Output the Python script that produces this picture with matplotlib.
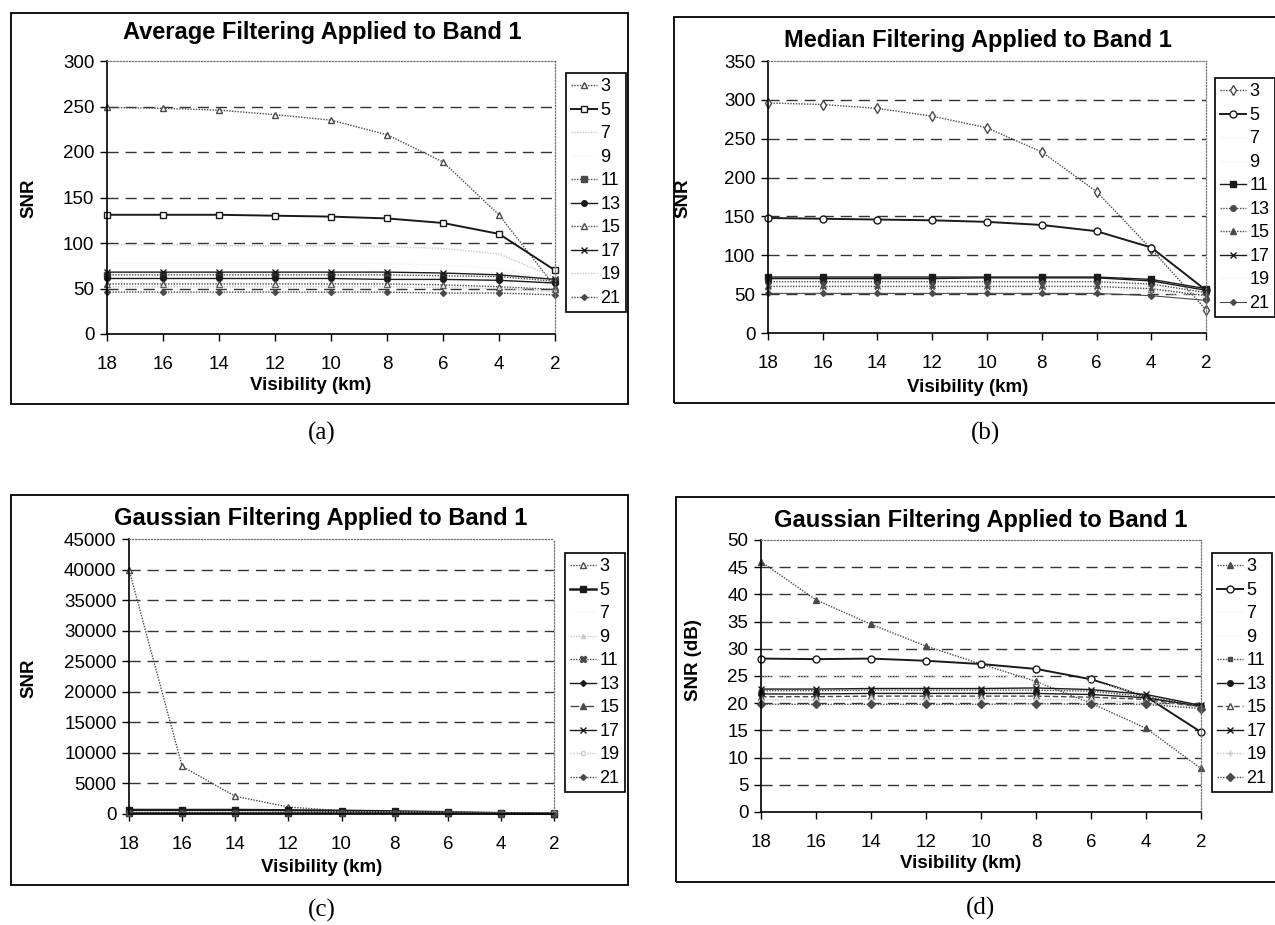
import matplotlib
matplotlib.use("Agg")
import matplotlib.pyplot as plt
from matplotlib.patches import Rectangle

plt.rcParams["font.family"] = ["Liberation Sans", "DejaVu Sans"]

W, H = 1275, 925

# ---- data -------------------------------------------------------------
visibility_km = [18, 16, 14, 12, 10, 8, 6, 4, 2]
window_sizes = ["3", "5", "7", "9", "11", "13", "15", "17", "19", "21"]

# (a) average filter, SNR per window size
average_snr = [
    [249, 248, 246, 241, 235, 219, 189, 131, 52],
    [131, 131, 131, 130, 129, 127, 122, 110, 70],
    [98, 98, 97, 97, 97, 96, 94, 88, 62],
    [78, 78, 78, 78, 78, 77, 76, 72, 58],
    [65, 65, 65, 65, 65, 65, 64, 63, 58],
    [61, 61, 61, 61, 61, 60, 60, 59, 56],
    [55, 55, 55, 55, 55, 55, 54, 52, 49],
    [68, 68, 68, 68, 68, 68, 67, 65, 60],
    [52, 52, 52, 52, 52, 52, 51, 50, 47],
    [46, 46, 46, 46, 46, 46, 45, 45, 43],
]

# (b) median filter, SNR per window size
median_snr = [
    [296, 294, 289, 279, 264, 233, 182, 108, 30],
    [148, 147, 146, 145, 143, 139, 131, 110, 55],
    [63, 63, 63, 63, 63, 63, 63, 60, 50],
    [58, 58, 58, 58, 58, 58, 58, 55, 48],
    [72, 72, 72, 72, 72, 72, 72, 69, 57],
    [66, 66, 66, 66, 66, 66, 66, 63, 52],
    [60, 60, 60, 60, 60, 60, 60, 57, 48],
    [70, 70, 70, 70, 71, 71, 71, 67, 55],
    [56, 56, 56, 56, 56, 56, 56, 53, 46],
    [51, 51, 51, 51, 51, 51, 51, 48, 42],
]

# (c) gaussian filter, linear SNR per window size
gaussian_snr = [
    [40000, 7800, 2900, 1150, 520, 260, 100, 35, 6],
    [660, 650, 660, 600, 520, 430, 280, 130, 30],
    [320, 320, 320, 320, 320, 300, 250, 140, 90],
    [240, 240, 240, 240, 240, 230, 200, 130, 88],
    [170, 170, 175, 175, 175, 175, 165, 130, 90],
    [148, 148, 150, 150, 150, 150, 145, 125, 87],
    [132, 132, 135, 135, 135, 135, 130, 118, 85],
    [182, 182, 186, 186, 186, 190, 178, 145, 92],
    [115, 115, 117, 117, 117, 117, 112, 105, 83],
    [95, 95, 95, 95, 95, 98, 95, 95, 80],
]

# (d) gaussian filter, SNR in dB per window size
gaussian_db = [
    [46.0, 39.0, 34.5, 30.5, 27.2, 24.0, 20.0, 15.4, 8.0],
    [28.2, 28.1, 28.2, 27.8, 27.2, 26.3, 24.4, 21.2, 14.7],
    [25.0, 25.0, 25.0, 25.0, 25.0, 24.8, 24.0, 21.5, 19.5],
    [23.8, 23.8, 23.8, 23.8, 23.8, 23.6, 23.0, 21.2, 19.4],
    [22.3, 22.3, 22.4, 22.4, 22.4, 22.4, 22.2, 21.2, 19.5],
    [21.7, 21.7, 21.8, 21.8, 21.8, 21.8, 21.6, 21.0, 19.4],
    [21.2, 21.2, 21.3, 21.3, 21.3, 21.3, 21.1, 20.7, 19.3],
    [22.6, 22.6, 22.7, 22.7, 22.7, 22.8, 22.5, 21.6, 19.6],
    [20.6, 20.6, 20.7, 20.7, 20.7, 20.7, 20.5, 20.2, 19.2],
    [19.8, 19.8, 19.8, 19.8, 19.8, 19.9, 19.8, 19.8, 19.0],
]

# ---- series styles ------------------------------------------------------
DOT = (0, (1, 1))
INK = "#1a1a1a"
GREY = "#4a4a4a"
FAINT = "#c8c8c8"
GHOST = "#f2f2f2"


def st(ls, color, marker=None, mfc=None, ms=5, lw=1.0):
    return dict(ls=ls, color=color, marker=marker, ms=ms, lw=lw,
                mfc=color if mfc is None else mfc, mec=color)


styles_a = [
    st(DOT, GREY, "^", "white"), st("-", INK, "s", "white", lw=1.4),
    st(DOT, FAINT), st(DOT, GHOST),
    st(DOT, GREY, "s", ms=4), st("-", INK, "o", ms=4),
    st(DOT, GREY, "^", "white", ms=4), st("-", INK, "x", ms=5),
    st(DOT, FAINT), st(DOT, GREY, "D", ms=3),
]
styles_b = [
    st(DOT, GREY, "d", "white"), st("-", INK, "o", "white", lw=1.4),
    st(DOT, GHOST), st(DOT, GHOST),
    st("-", INK, "s", ms=4), st(DOT, GREY, "o", ms=4),
    st(DOT, GREY, "^", ms=4), st("-", INK, "x", ms=5),
    st(DOT, GHOST), st("-", GREY, "D", ms=3, lw=0.8),
]
styles_c = [
    st(DOT, GREY, "^", "white"), st("-", INK, "s", lw=1.8),
    st(DOT, GHOST), st(DOT, FAINT, "^", ms=3),
    st(DOT, GREY, "X", ms=5), st("-", INK, "D", ms=3),
    st("-.", GREY, "^", ms=4), st("-", INK, "x", ms=5),
    st(DOT, FAINT, "o", "white", ms=3), st(DOT, GREY, "D", ms=3),
]
styles_d = [
    st(DOT, GREY, "^", ms=5), st("-", INK, "o", "white", lw=1.4),
    st(DOT, GHOST), st(DOT, GHOST),
    st(DOT, GREY, "s", ms=3), st("-", INK, "o", ms=4),
    st((0, (4, 2)), GREY, "^", "white", ms=4), st("-", INK, "x", ms=5),
    st(DOT, FAINT, "+", ms=5), st(DOT, GREY, "D", ms=4),
]


def fig_rect(x0, y0, x1, y1):
    return [x0 / W, 1 - y1 / H, (x1 - x0) / W, (y1 - y0) / H]


fig = plt.figure(figsize=(W / 100, H / 100), dpi=100)

panels = [
    dict(data=average_snr, styles=styles_a, title="Average Filtering Applied to Band 1",
         ylabel="SNR", ymax=300, ystep=50,
         frame=(11, 13, 628, 404), plot=(107, 61, 555, 334),
         title_xy=(322, 33), ylabel_xy=(29, 198), xlabel_xy=(311, 386),
         legend=(566, 73), caption="(a)", caption_xy=(322, 433)),
    dict(data=median_snr, styles=styles_b, title="Median Filtering Applied to Band 1",
         ylabel="SNR", ymax=350, ystep=50,
         frame=(674, 17, 1290, 403), plot=(768, 61, 1206, 333),
         title_xy=(978, 40), ylabel_xy=(683, 198), xlabel_xy=(968, 388),
         legend=(1215, 78), caption="(b)", caption_xy=(985, 433)),
    dict(data=gaussian_snr, styles=styles_c, title="Gaussian Filtering Applied to Band 1",
         ylabel="SNR", ymax=45000, ystep=5000,
         frame=(11, 495, 628, 885), plot=(129, 539, 554, 814),
         title_xy=(321, 518), ylabel_xy=(29, 678), xlabel_xy=(322, 867),
         legend=(565, 553), caption="(c)", caption_xy=(322, 910)),
    dict(data=gaussian_db, styles=styles_d, title="Gaussian Filtering Applied to Band 1",
         ylabel="SNR (dB)", ymax=50, ystep=5,
         frame=(676, 497, 1290, 882), plot=(761, 540, 1201, 812),
         title_xy=(981, 520), ylabel_xy=(693, 660), xlabel_xy=(961, 863),
         legend=(1212, 553), caption="(d)", caption_xy=(980, 908)),
]

for p in panels:
    # outer chart border
    fx0, fy0, fx1, fy1 = p["frame"]
    fig.add_artist(Rectangle((fx0 / W, 1 - fy1 / H), (fx1 - fx0) / W, (fy1 - fy0) / H,
                             transform=fig.transFigure, fill=False, lw=1.3,
                             ec="black", zorder=0))

    ax = fig.add_axes(fig_rect(*p["plot"]))
    for label, vals, sty in zip(window_sizes, p["data"], p["styles"]):
        ax.plot(visibility_km, vals, label=label, clip_on=False, **sty)

    ax.set_xlim(18, 2)
    ax.set_xticks(visibility_km)
    ax.set_ylim(0, p["ymax"])
    yt = list(range(0, p["ymax"] + 1, p["ystep"]))
    ax.set_yticks(yt)
    for t in yt[1:-1]:
        ax.axhline(t, color="#333333", lw=1.0, ls=(0, (8, 5)), zorder=0)

    for side in ("top", "right"):
        ax.spines[side].set_linestyle((0, (1, 1.5)))
        ax.spines[side].set_color("#777777")
        ax.spines[side].set_linewidth(0.9)
    for side in ("left", "bottom"):
        ax.spines[side].set_color("black")
        ax.spines[side].set_linewidth(1.2)

    ax.tick_params(axis="both", direction="out", length=5, width=1.0,
                   labelsize=13.5, colors="black", pad=4)
    ax.tick_params(axis="x", pad=11)

    tx, ty = p["title_xy"]
    fig.text(tx / W, 1 - ty / H, p["title"], ha="center", va="center",
             fontsize=17, fontweight="bold")
    lx, ly = p["ylabel_xy"]
    fig.text(lx / W, 1 - ly / H, p["ylabel"], ha="center", va="center",
             rotation=90, fontsize=13.5, fontweight="bold")
    xx, xy = p["xlabel_xy"]
    fig.text(xx / W, 1 - xy / H, "Visibility (km)", ha="center", va="center",
             fontsize=13.5, fontweight="bold")
    cx, cy = p["caption_xy"]
    fig.text(cx / W, 1 - cy / H, p["caption"], ha="center", va="center",
             fontsize=18, family=["Liberation Serif", "DejaVu Serif"])

    gx0, gy0 = p["legend"]
    leg = ax.legend(loc="upper left", bbox_to_anchor=(gx0 / W, 1 - gy0 / H),
                    bbox_transform=fig.transFigure,
                    borderaxespad=0, fancybox=False, framealpha=1,
                    edgecolor="black", fontsize=13, handlelength=1.4,
                    handletextpad=0.2, labelspacing=0.36, borderpad=0.3)
    leg.get_frame().set_linewidth(1.2)

fig.savefig("out.png", dpi=100)
